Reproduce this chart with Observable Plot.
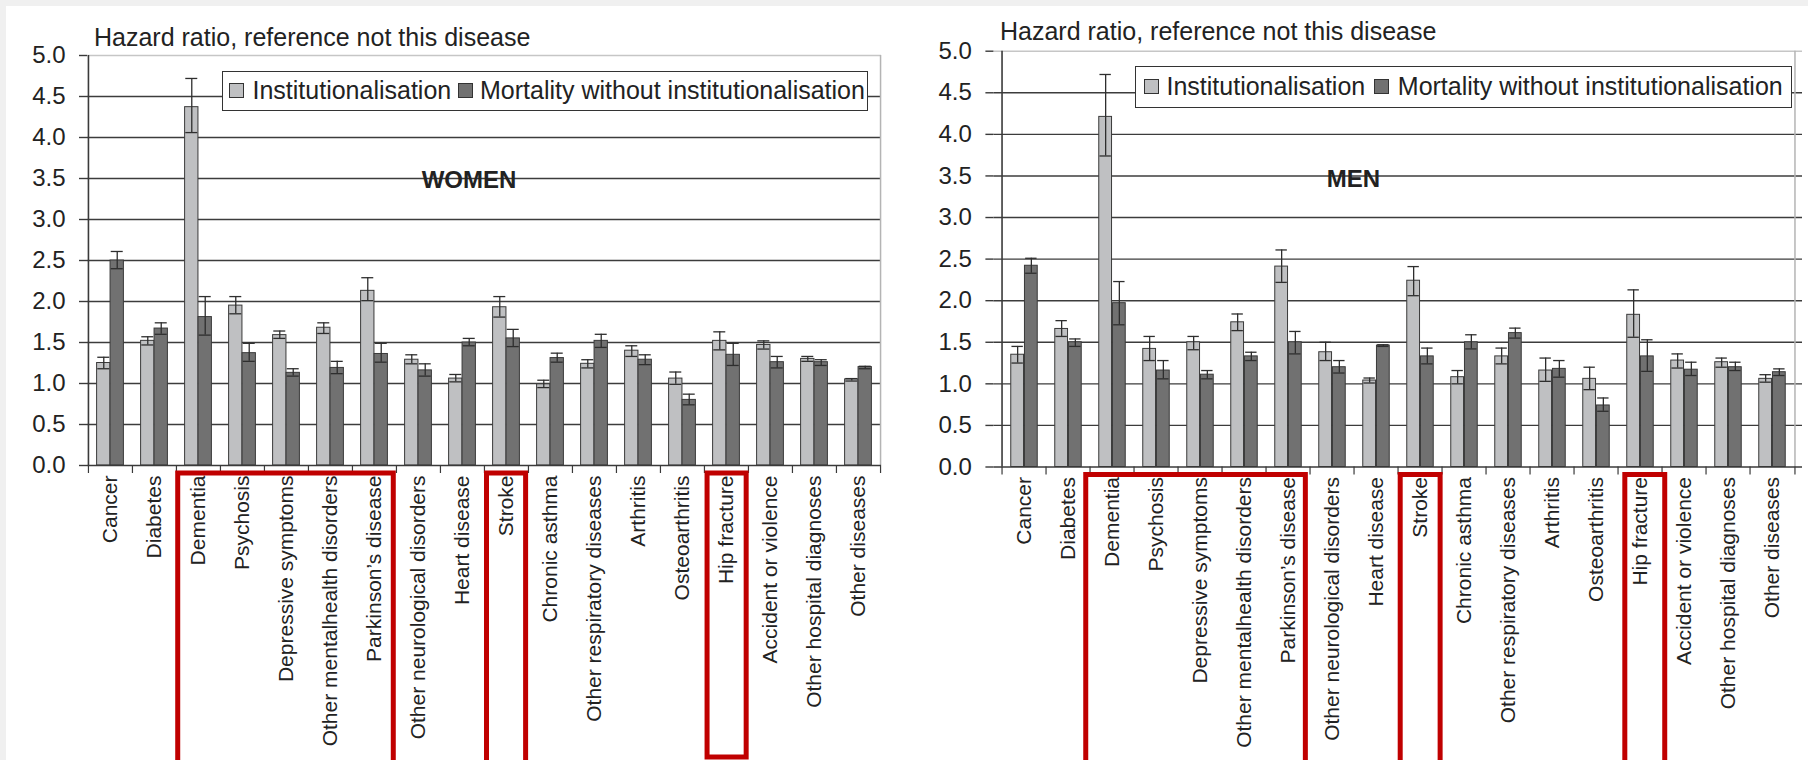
<!DOCTYPE html>
<html>
<head>
<meta charset="utf-8">
<script src="https://cdn.jsdelivr.net/npm/d3@7"></script>
<script src="https://cdn.jsdelivr.net/npm/@observablehq/plot@0.6"></script>
<style>
  html, body { margin: 0; padding: 0; background: #f0f0f0; overflow: hidden; width: 1808px; height: 760px; }
  #panel { position: absolute; left: 6px; top: 6px; width: 1802px; height: 754px; background: #fff; }
  .chart { position: absolute; top: 0; }
  .chart svg { overflow: visible; }
  .title { position: absolute; font-family: "Liberation Sans", Arial, sans-serif; font-size: 25px; line-height: 1; color: #222; white-space: nowrap; }
  .big { position: absolute; font-family: "Liberation Sans", Arial, sans-serif; font-weight: bold; font-size: 24px; line-height: 1; color: #222; white-space: nowrap; }
  .legend { position: absolute; background: #fff; border: 1.5px solid #333; box-sizing: border-box; display: flex; align-items: center;
            font-family: "Liberation Sans", Arial, sans-serif; font-size: 25px; color: #222; white-space: nowrap; }
  .sw { display: inline-block; width: 15px; height: 15px; border: 1.5px solid #333; box-sizing: border-box; flex: none; }
  #overlay { position: absolute; left: 0; top: 0; }
</style>
</head>
<body>
<div id="panel"></div>
<div id="root"></div>
<script>
// ---------------- data ----------------
const categories = ["Cancer", "Diabetes", "Dementia", "Psychosis", "Depressive symptoms",
  "Other mentalhealth disorders", "Parkinson\u2019s disease", "Other neurological disorders",
  "Heart disease", "Stroke", "Chronic asthma", "Other respiratory diseases", "Arthritis",
  "Osteoarthritis", "Hip fracture", "Accident or violence", "Other hospital diagnoses", "Other diseases"];

const seriesNames = ["Institutionalisation", "Mortality without institutionalisation"];
const yTickValues = [0, 0.5, 1, 1.5, 2, 2.5, 3, 3.5, 4, 4.5, 5];
const axisTitle = "Hazard ratio, reference not this disease";
const panelNames = ["WOMEN", "MEN"];

// Women
const womenInst   = [1.25, 1.52, 4.37, 1.95, 1.59, 1.68, 2.13, 1.29, 1.06, 1.93, 0.99, 1.24, 1.40, 1.06, 1.52, 1.47, 1.30, 1.05];
const womenInstLo = [1.18, 1.47, 4.06, 1.85, 1.55, 1.61, 2.01, 1.24, 1.02, 1.81, 0.95, 1.19, 1.33, 0.99, 1.41, 1.42, 1.27, 1.03];
const womenInstHi = [1.32, 1.57, 4.72, 2.06, 1.64, 1.74, 2.29, 1.35, 1.11, 2.06, 1.04, 1.29, 1.46, 1.14, 1.63, 1.52, 1.33, 1.06];
const womenMort   = [2.50, 1.67, 1.81, 1.37, 1.13, 1.19, 1.36, 1.16, 1.50, 1.55, 1.31, 1.52, 1.29, 0.80, 1.35, 1.26, 1.26, 1.20];
const womenMortLo = [2.40, 1.60, 1.59, 1.27, 1.09, 1.12, 1.26, 1.09, 1.46, 1.45, 1.26, 1.44, 1.23, 0.74, 1.22, 1.19, 1.22, 1.18];
const womenMortHi = [2.61, 1.74, 2.06, 1.49, 1.18, 1.27, 1.49, 1.24, 1.55, 1.66, 1.37, 1.60, 1.35, 0.87, 1.49, 1.33, 1.29, 1.21];

// Men
const menInst   = [1.35, 1.66, 4.21, 1.42, 1.50, 1.74, 2.41, 1.38, 1.04, 2.24, 1.08, 1.33, 1.16, 1.06, 1.83, 1.28, 1.26, 1.06];
const menInstLo = [1.25, 1.57, 3.74, 1.28, 1.41, 1.64, 2.22, 1.28, 1.01, 2.06, 1.00, 1.24, 1.03, 0.93, 1.56, 1.19, 1.20, 1.02];
const menInstHi = [1.45, 1.76, 4.72, 1.57, 1.57, 1.84, 2.61, 1.50, 1.07, 2.41, 1.16, 1.43, 1.31, 1.20, 2.13, 1.36, 1.31, 1.11];
const menMort   = [2.42, 1.50, 1.97, 1.16, 1.11, 1.33, 1.50, 1.20, 1.46, 1.33, 1.50, 1.61, 1.18, 0.74, 1.33, 1.17, 1.20, 1.14];
const menMortLo = [2.33, 1.45, 1.71, 1.06, 1.06, 1.28, 1.36, 1.13, 1.45, 1.24, 1.42, 1.55, 1.08, 0.67, 1.15, 1.10, 1.16, 1.10];
const menMortHi = [2.51, 1.54, 2.23, 1.28, 1.16, 1.38, 1.63, 1.28, 1.47, 1.43, 1.59, 1.67, 1.28, 0.83, 1.53, 1.26, 1.26, 1.18];

// Highlighted groups (red annotation boxes)
const highlightGroups = [["Dementia", "Parkinson\u2019s disease"], ["Stroke", "Stroke"], ["Hip fracture", "Hip fracture"]];

// ---------------- styles ----------------
const FONT = "Liberation Sans, Arial, sans-serif";
const LIGHT = "#bfc0c2", DARK = "#717171", EDGE = "#3a3a3a", GRID = "#3c3c3c";

function makeChart(cfg) {
  const rows = categories.map((c, i) => ({
    cat: c,
    inst: cfg.inst[i], instLo: cfg.instLo[i], instHi: cfg.instHi[i],
    mort: cfg.mort[i], mortLo: cfg.mortLo[i], mortHi: cfg.mortHi[i]
  }));
  const plotW = cfg.width - cfg.marginLeft - cfg.marginRight;
  const bw = plotW / categories.length;
  const barW = bw * 0.305;
  const barInset = (bw - barW) / 2;
  const capInset = (bw - barW * 0.9) / 2;
  const dxI = -barW / 2, dxM = barW / 2;
  const grid = yTickValues.filter(v => v > 0 && v < 5);
  const last = categories[categories.length - 1];

  const bar = (y, dx, fill) => Plot.barY(rows, {x: "cat", y, dx, insetLeft: barInset, insetRight: barInset,
    fill, stroke: EDGE, strokeWidth: 1});
  const err = (lo, hi, dx) => [
    Plot.ruleX(rows, {x: "cat", y1: lo, y2: hi, dx, stroke: "#2e2e2e", strokeWidth: 1.3}),
    Plot.tickY(rows, {x: "cat", y: lo, dx, insetLeft: capInset, insetRight: capInset, stroke: "#2e2e2e", strokeWidth: 1.3}),
    Plot.tickY(rows, {x: "cat", y: hi, dx, insetLeft: capInset, insetRight: capInset, stroke: "#2e2e2e", strokeWidth: 1.3})
  ];

  return Plot.plot({
    width: cfg.width,
    height: 760,
    marginLeft: cfg.marginLeft,
    marginRight: cfg.marginRight,
    marginTop: cfg.marginTop,
    marginBottom: 760 - cfg.zeroY,
    x: {domain: categories, padding: 0, axis: null},
    y: {domain: [0, 5], axis: null},
    style: {background: "transparent", fontFamily: FONT, color: "#222", overflow: "visible"},
    marks: [
      Plot.ruleY(grid, {stroke: GRID, strokeWidth: 1.4}),
      Plot.ruleY([5], {stroke: "#c6c6c6", strokeWidth: 1.5}),
      Plot.ruleX([last], {dx: bw / 2, y1: 0, y2: 5, stroke: "#b4b4b4", strokeWidth: 1.5}),
      bar("inst", dxI, LIGHT),
      bar("mort", dxM, DARK),
      ...err("instLo", "instHi", dxI),
      ...err("mortLo", "mortHi", dxM),
      Plot.ruleY([0], {stroke: EDGE, strokeWidth: 1.6}),
      Plot.ruleX([categories[0]], {dx: -bw / 2, y1: 0, y2: 5, stroke: EDGE, strokeWidth: 1.6}),
      Plot.axisY({ticks: yTickValues, tickSize: 8, tickPadding: 14, tickFormat: d3.format(".1f"),
        fontSize: 24, label: null, stroke: EDGE, strokeWidth: 1.4, fill: "#222"}),
      Plot.axisX({tickSize: 8, tickFormat: () => "", dx: -bw / 2, label: null, stroke: EDGE, strokeWidth: 1.2}),
      Plot.axisX({ticks: [last], tickSize: 8, tickFormat: () => "", dx: bw / 2, label: null, stroke: EDGE, strokeWidth: 1.2}),
      Plot.axisX({tickSize: 0, tickRotate: -90, tickPadding: 10, fontSize: 21, label: null, fill: "#222"})
    ]
  });
}

const root = document.getElementById("root");

const panels = [
  {left: 0, width: 904, marginLeft: 87, marginRight: 23, marginTop: 55, zeroY: 465,
   inst: womenInst, instLo: womenInstLo, instHi: womenInstHi, mort: womenMort, mortLo: womenMortLo, mortHi: womenMortHi,
   title: {x: 94, baseline: 46}, legend: {x: 222, y: 70.7, w: 646, h: 40.5, pad: 5.5, g1: 9, g2: 6.8, g3: 7},
   name: panelNames[0], nameX: 421.7, nameBase: 188, closedBottom: ["Hip fracture"]},
  {left: 904, width: 904, marginLeft: 89.4, marginRight: 6, marginTop: 50.7, zeroY: 466.5,
   inst: menInst, instLo: menInstLo, instHi: menInstHi, mort: menMort, mortLo: menMortLo, mortHi: menMortHi,
   title: {x: 1000, baseline: 40.5}, legend: {x: 1134.7, y: 65.7, w: 657.3, h: 42, pad: 8.8, g1: 7, g2: 9, g3: 8.6},
   name: panelNames[1], nameX: 1326.7, nameBase: 187.3, closedBottom: []}
];

const NS = "http://www.w3.org/2000/svg";
const overlay = document.createElementNS(NS, "svg");
overlay.setAttribute("id", "overlay");
overlay.setAttribute("width", 1808);
overlay.setAttribute("height", 760);

for (const p of panels) {
  const chart = makeChart(p);
  const holder = document.createElement("div");
  holder.className = "chart";
  holder.style.left = p.left + "px";
  holder.appendChild(chart);
  root.appendChild(holder);

  // axis title
  const t = document.createElement("div");
  t.className = "title";
  t.textContent = axisTitle;
  t.style.left = p.title.x + "px";
  t.style.top = (p.title.baseline - 0.8465 * 25) + "px";
  root.appendChild(t);

  // legend
  const lg = document.createElement("div");
  lg.className = "legend";
  Object.assign(lg.style, {left: p.legend.x + "px", top: p.legend.y + "px", width: p.legend.w + "px", height: p.legend.h + "px",
    paddingLeft: p.legend.pad + "px"});
  const colors = [LIGHT, DARK];
  seriesNames.forEach((s, i) => {
    const sw = document.createElement("span");
    sw.className = "sw";
    sw.style.background = colors[i];
    if (i === 1) sw.style.marginLeft = p.legend.g2 + "px";
    const tx = document.createElement("span");
    tx.textContent = s;
    tx.style.marginLeft = (i === 0 ? p.legend.g1 : p.legend.g3) + "px";
    lg.appendChild(sw);
    lg.appendChild(tx);
  });
  root.appendChild(lg);

  // panel name
  const nm = document.createElement("div");
  nm.className = "big";
  nm.textContent = p.name;
  nm.style.left = p.nameX + "px";
  nm.style.top = (p.nameBase - 0.8465 * 24) + "px";
  root.appendChild(nm);

  // red highlight boxes derived from the chart's x and y scales
  const sx = chart.scale("x"), sy = chart.scale("y");
  const step = (sx.range[1] - sx.range[0]) / sx.domain.length;
  const zero = sy.apply(0);
  for (const [a, b] of highlightGroups) {
    const x1 = p.left + sx.range[0] + sx.domain.indexOf(a) * step + 2.5;
    const x2 = p.left + sx.range[0] + (sx.domain.indexOf(b) + 1) * step - 2.5;
    const y1 = zero + 8;
    const y2 = p.closedBottom.includes(a) ? 757 : 800;
    const r = document.createElementNS(NS, "rect");
    r.setAttribute("x", x1); r.setAttribute("y", y1);
    r.setAttribute("width", x2 - x1); r.setAttribute("height", y2 - y1);
    r.setAttribute("fill", "none"); r.setAttribute("stroke", "#c00000"); r.setAttribute("stroke-width", 5);
    overlay.appendChild(r);
  }
}
root.appendChild(overlay);
</script>
</body>
</html>
